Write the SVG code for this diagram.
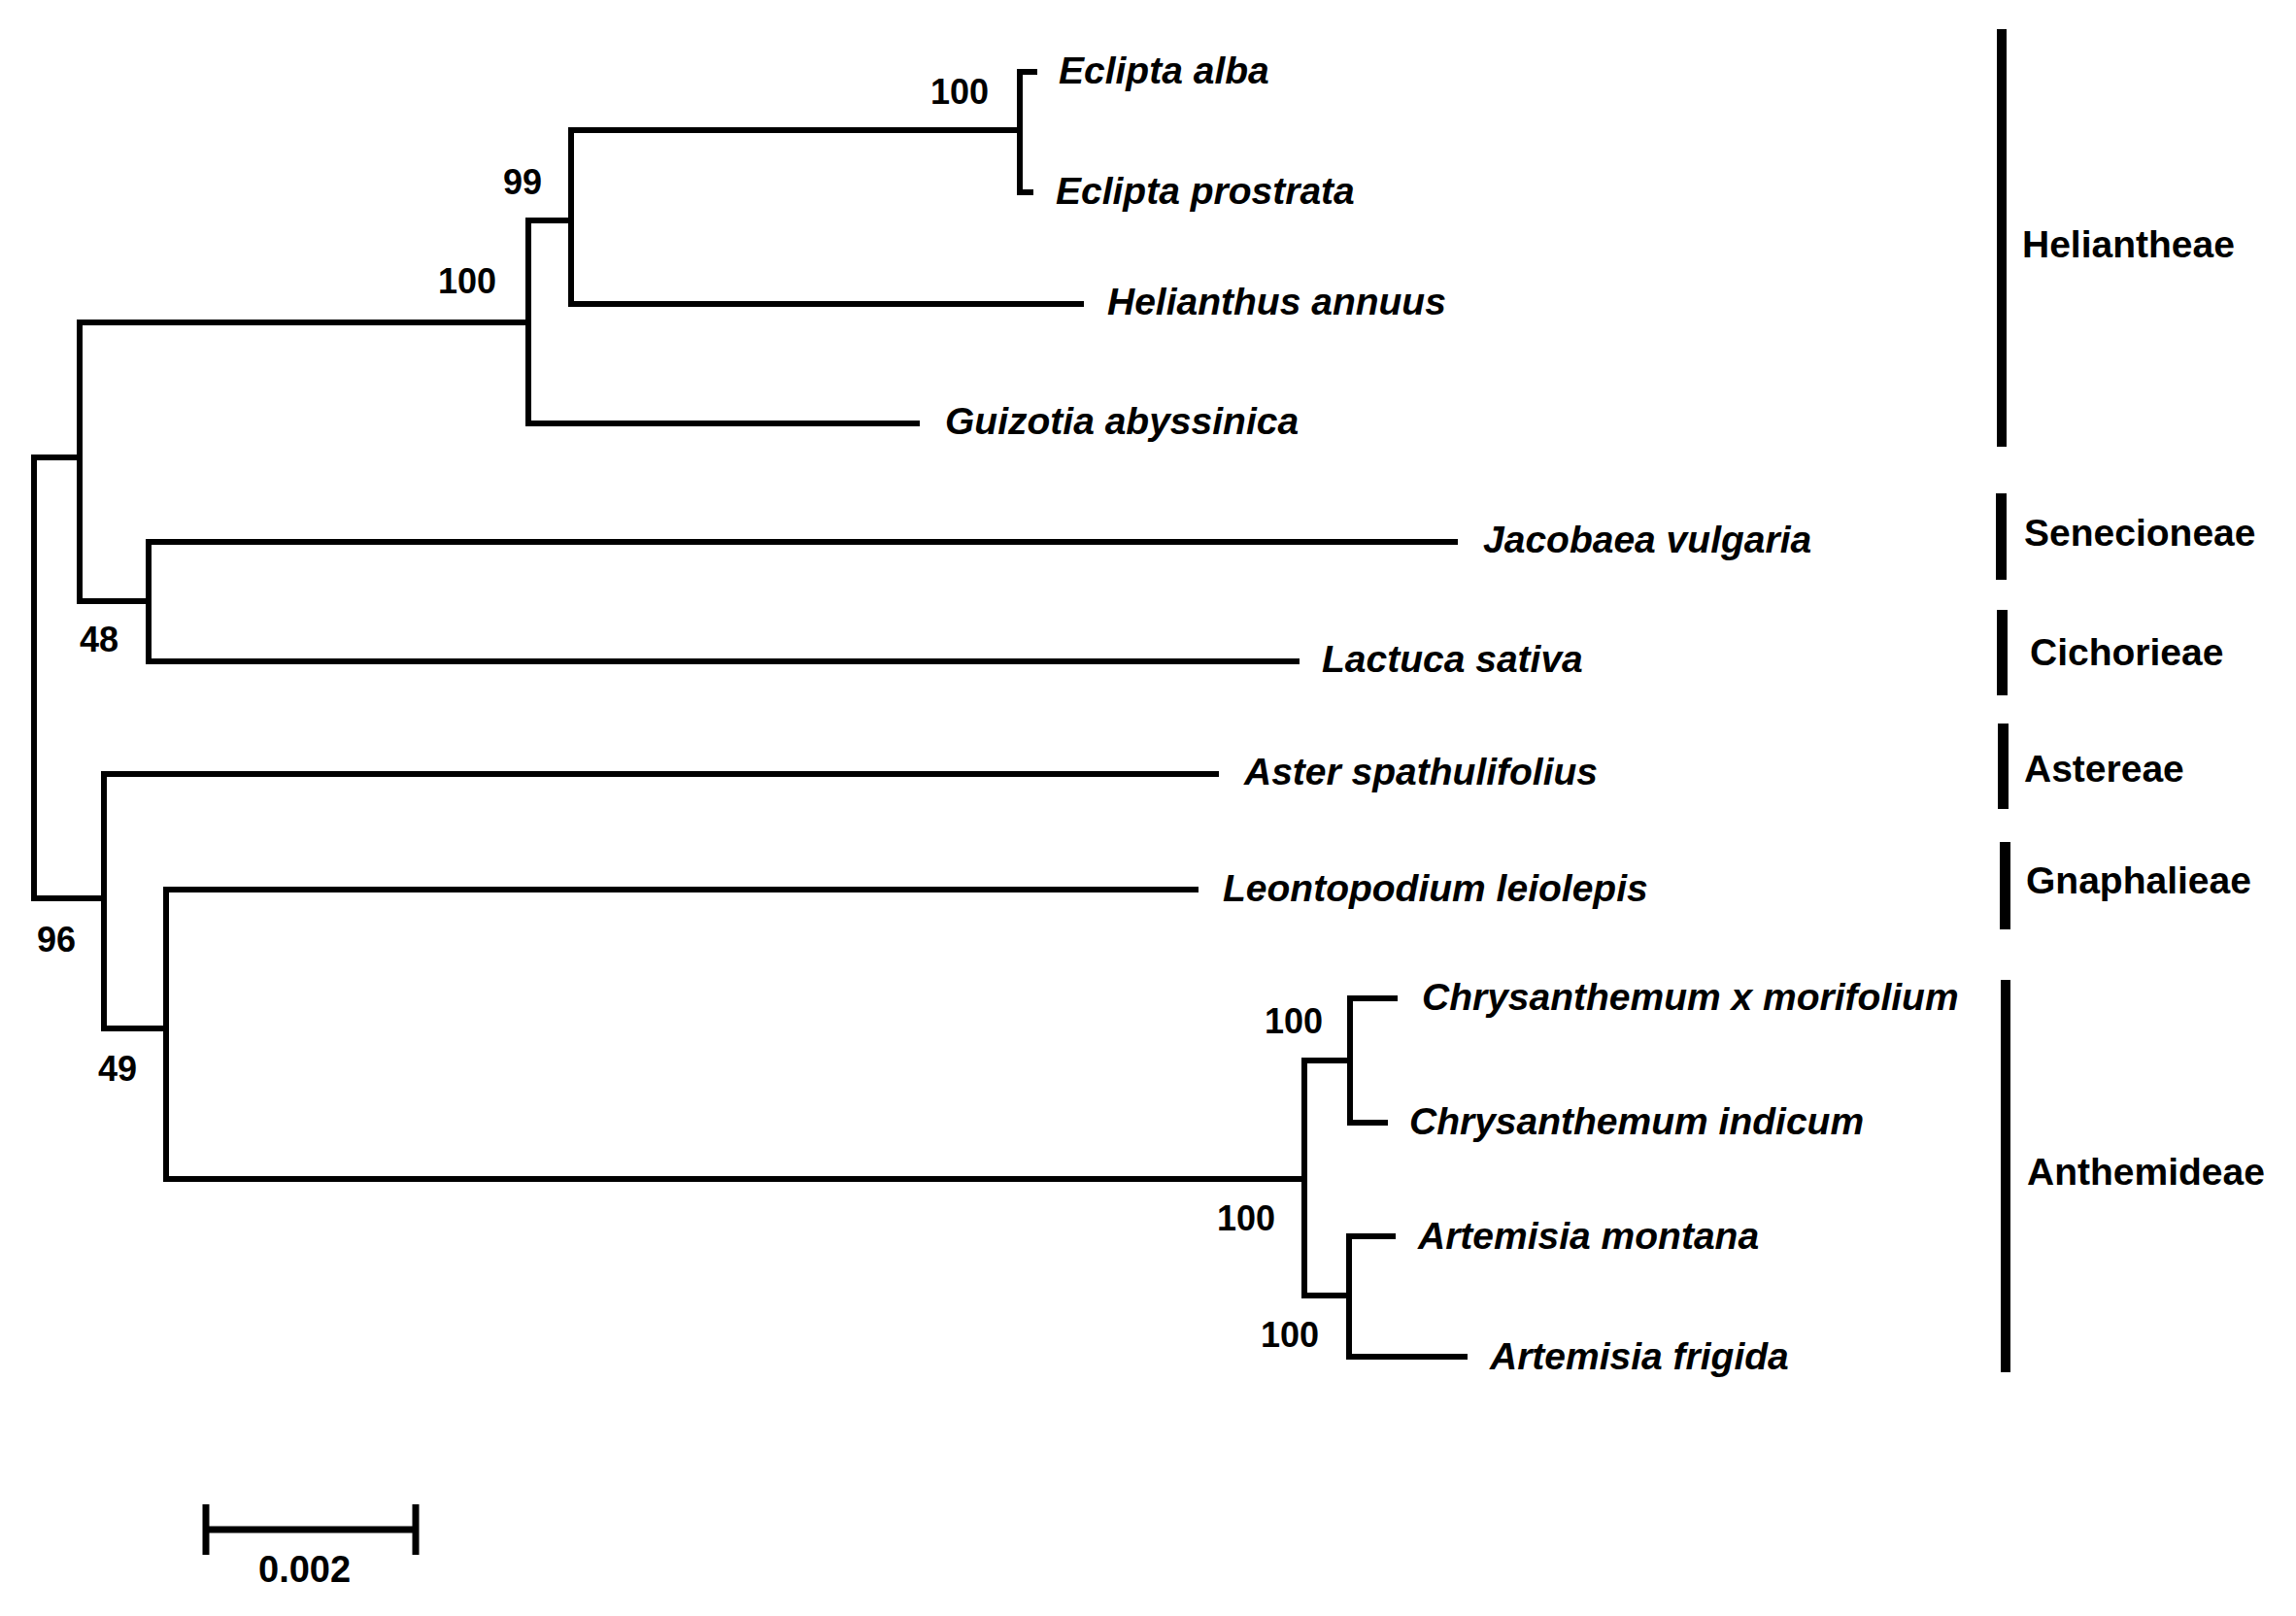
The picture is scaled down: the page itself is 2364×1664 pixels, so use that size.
<svg xmlns="http://www.w3.org/2000/svg" width="2364" height="1664" viewBox="0 0 2364 1664">
<style>
.br{fill:none;stroke:#000;stroke-width:6;stroke-linejoin:miter;stroke-linecap:butt}
.tx{font-family:"Liberation Sans",Arial,sans-serif;font-weight:bold;font-style:italic;font-size:39px;fill:#000}
.tr{font-family:"Liberation Sans",Arial,sans-serif;font-weight:bold;font-size:39px;fill:#000}
.bs{font-family:"Liberation Sans",Arial,sans-serif;font-weight:bold;font-size:36px;fill:#000}
.bar{fill:#000}
</style>
<rect width="2364" height="1664" fill="#fff"/>
<g id="connectors">
<path class="br" d="M82,471 H35 V925 H107"/>
<path class="br" d="M544,332 H82 V619 H153"/>
<path class="br" d="M588,227 H544 V436 H947"/>
<path class="br" d="M1050,134 H588 V313 H1116"/>
<path class="br" d="M1068,74 H1050 V198 H1064"/>
<path class="br" d="M1501,558 H153 V681 H1338"/>
<path class="br" d="M1255,797 H107 V1059 H171"/>
<path class="br" d="M1234,916 H171 V1214 H1343"/>
<path class="br" d="M1390,1092 H1343 V1334 H1389"/>
<path class="br" d="M1439,1028 H1390 V1156 H1429"/>
<path class="br" d="M1437,1273 H1389 V1397 H1511"/>
</g>
<g id="bootstrap">
<text class="bs" x="958" y="107">100</text>
<text class="bs" x="518" y="200">99</text>
<text class="bs" x="451" y="302">100</text>
<text class="bs" x="82" y="671">48</text>
<text class="bs" x="38" y="980">96</text>
<text class="bs" x="101" y="1113">49</text>
<text class="bs" x="1302" y="1064">100</text>
<text class="bs" x="1253" y="1267">100</text>
<text class="bs" x="1298" y="1387">100</text>
</g>
<g id="taxa">
<text id="t-eclipta-alba" class="tx" x="1090" y="86">Eclipta alba</text>
<text id="t-eclipta-prostrata" class="tx" x="1087" y="210">Eclipta prostrata</text>
<text id="t-helianthus" class="tx" x="1140" y="324">Helianthus annuus</text>
<text id="t-guizotia" class="tx" x="973" y="447">Guizotia abyssinica</text>
<text id="t-jacobaea" class="tx" x="1527" y="569">Jacobaea vulgaria</text>
<text id="t-lactuca" class="tx" x="1361" y="692">Lactuca sativa</text>
<text id="t-aster" class="tx" x="1281" y="808">Aster spathulifolius</text>
<text id="t-leontopodium" class="tx" x="1259" y="928">Leontopodium leiolepis</text>
<text id="t-chr-mor" class="tx" x="1464" y="1040">Chrysanthemum x morifolium</text>
<text id="t-chr-ind" class="tx" x="1451" y="1168">Chrysanthemum indicum</text>
<text id="t-art-mon" class="tx" x="1460" y="1286">Artemisia montana</text>
<text id="t-art-fri" class="tx" x="1534" y="1410">Artemisia frigida</text>
</g>
<g id="tribes">
<g id="heliantheae"><rect class="bar" x="2056" y="30" width="10" height="430"/><text class="tr" x="2082" y="265">Heliantheae</text></g>
<g id="senecioneae"><rect class="bar" x="2055" y="508" width="11" height="89"/><text class="tr" x="2084" y="562">Senecioneae</text></g>
<g id="cichorieae"><rect class="bar" x="2056" y="628" width="11" height="88"/><text class="tr" x="2090" y="685">Cichorieae</text></g>
<g id="astereae"><rect class="bar" x="2057" y="745" width="11" height="88"/><text class="tr" x="2084" y="805">Astereae</text></g>
<g id="gnaphalieae"><rect class="bar" x="2059" y="867" width="11" height="90"/><text class="tr" x="2086" y="920">Gnaphalieae</text></g>
<g id="anthemideae"><rect class="bar" x="2060" y="1009" width="10" height="404"/><text class="tr" x="2087" y="1220">Anthemideae</text></g>
</g>
<g id="scalebar">
<path d="M212,1575 H428 M212,1549 V1601 M428,1549 V1601" fill="none" stroke="#000" stroke-width="7"/>
<text class="bs" x="266" y="1629" style="font-size:38px">0.002</text>
</g>
</svg>
